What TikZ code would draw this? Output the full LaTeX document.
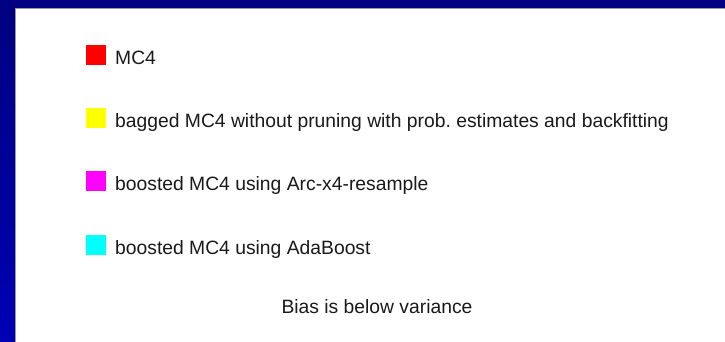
\documentclass[tikz,border=0pt]{standalone}
\usepackage{fontspec}
\setmainfont{Liberation Sans}
\usepackage{xcolor}
\usepackage{tikz}
\usetikzlibrary{positioning}
\definecolor{slidenavy}{HTML}{000080}
\definecolor{slideblue}{HTML}{0000B4}
\definecolor{slidegray}{HTML}{9A9A9A}
\definecolor{slidetext}{HTML}{1A1A1A}
\definecolor{keyred}{HTML}{FF0000}
\definecolor{keyyellow}{HTML}{FFFF00}
\definecolor{keymagenta}{HTML}{FF00FF}
\definecolor{keycyan}{HTML}{00FFFF}
\frenchspacing

\begin{document}
\begin{tikzpicture}[
  x=1pt, y=-1pt,
  every node/.style={font=\fontsize{19.3}{23}\selectfont, text=slidetext},
  legbox/.style={minimum size=20pt, inner sep=0pt, draw=none},
  legtext/.style={anchor=base west, inner sep=0pt}
]
\useasboundingbox (0,0) rectangle (725,341);

%% Slide frame
\shade[top color=slidenavy, bottom color=slideblue] (0,0) rectangle (725,341);
\fill[slidenavy] (0,0) rectangle (725,9);
\fill[white] (15,8) rectangle (727,343);
\draw[slidegray, line width=1.2pt] (15.6,343) -- (15.6,8.6) -- (727,8.6);

%% Legend entries
\node[legbox, fill=keyred] (sqmc) at (96,55) {};
\node[legtext] (mcfour) at (115,64) {MC4};

\node[legbox, fill=keyyellow] (sqbag) at (96,118) {};
\node[legtext] (bagged) at (115,127)
  {bagged MC4 without pruning with prob. estimates and backfitting};

\node[legbox, fill=keymagenta] (sqarc) at (96,181) {};
\node[legtext] (arcx) at (115,190) {boosted MC4 using Arc-x4-resample};

\node[legbox, fill=keycyan] (sqada) at (96,245) {};
\node[legtext] (ada) at (115,254) {boosted MC4 using AdaBoost};

%% Footnote
\node[anchor=base, inner sep=0pt] (note) at (377,313) {Bias is below variance};

\end{tikzpicture}
\end{document}
